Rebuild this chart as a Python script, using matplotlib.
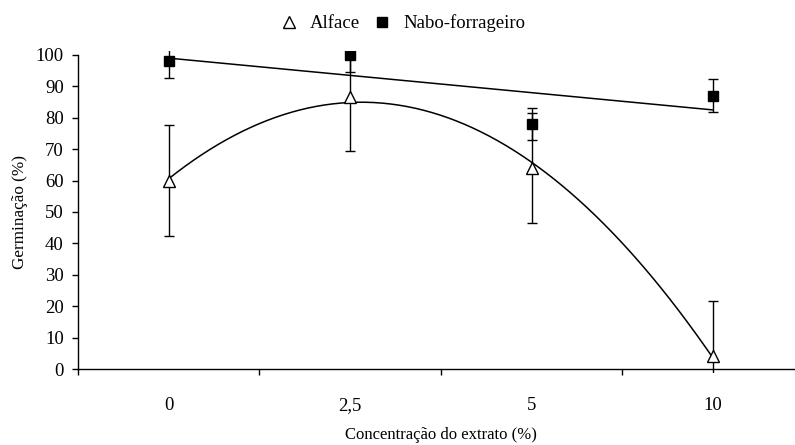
import numpy as np
import matplotlib
matplotlib.use('Agg')
import matplotlib.pyplot as plt

plt.rcParams['font.family'] = ['Liberation Serif', 'DejaVu Serif']

# concentracoes do extrato (eixo categorico)
concentracoes = ['0', '2,5', '5', '10']
pos = np.arange(1, len(concentracoes) + 1)

# germinacao media e erro
alface = [60.0, 86.7, 64.0, 4.0]
alface_err = [17.6, 17.2, 17.5, 17.5]
nabo = [98.0, 100.0, 78.0, 87.0]
nabo_err = [5.3, 5.3, 5.0, 5.2]

fig = plt.figure(figsize=(7.95, 4.45), dpi=100)
ax = fig.add_axes([0.0981, 0.1609, 0.9132, 0.7254])

# barras de erro
ax.errorbar(pos, alface, yerr=alface_err, fmt='none', ecolor='black',
            elinewidth=1.0, capsize=3.6, capthick=1.0, zorder=2)
ax.errorbar(pos, nabo, yerr=nabo_err, fmt='none', ecolor='black',
            elinewidth=1.0, capsize=3.6, capthick=1.0, zorder=2)

# linhas de tendencia: linear (nabo) e polinomial de 2a ordem (alface)
xx = np.linspace(1, 4, 200)
c_nabo = np.polyfit(pos, nabo, 1)
c_alface = np.polyfit(pos, alface, 2)
ax.plot(xx, np.polyval(c_nabo, xx), color='black', lw=1.1, zorder=3)
ax.plot(xx, np.polyval(c_alface, xx), color='black', lw=1.1, zorder=3)

# pontos
ax.plot(pos, alface, linestyle='none', marker='^', markersize=9,
        markerfacecolor='white', markeredgecolor='black', markeredgewidth=1.0,
        label='Alface', zorder=4)
ax.plot(pos, nabo, linestyle='none', marker='s', markersize=7,
        color='black', label='Nabo-forrageiro', zorder=4)

ax.set_xlim(0.5, 4.5)
ax.set_ylim(-1.4, 101.4)
ax.set_yticks(np.arange(0, 101, 10))

ax.spines['top'].set_visible(False)
ax.spines['right'].set_visible(False)
ax.spines['left'].set_bounds(0, 100)
ax.spines['bottom'].set_position(('data', 0))
ax.spines['left'].set_linewidth(1.0)
ax.spines['bottom'].set_linewidth(1.0)

ax.set_xticks(pos)
ax.set_xticklabels(concentracoes)
ax.set_xticks(np.arange(0.5, 4.6, 1.0), minor=True)
ax.tick_params(axis='x', which='major', length=0, pad=20, labelsize=13.5)
ax.tick_params(axis='x', which='minor', length=4, width=1.0, direction='out')
ax.tick_params(axis='y', length=4.3, width=1.0, direction='out', pad=6,
               labelsize=13.5)

ax.set_xlabel('Concentração do extrato (%)', fontsize=12)
ax.xaxis.set_label_coords(0.5, -0.165)
ax.set_ylabel('Germinação (%)', fontsize=12.3)
ax.yaxis.set_label_coords(-0.069, 0.5)

fig.legend(loc='center', bbox_to_anchor=(0.506, 0.948), ncol=2,
           frameon=False, fontsize=13.5, handletextpad=0.6,
           columnspacing=0.72, handlelength=1.0)

fig.savefig('out.png', dpi=100)
